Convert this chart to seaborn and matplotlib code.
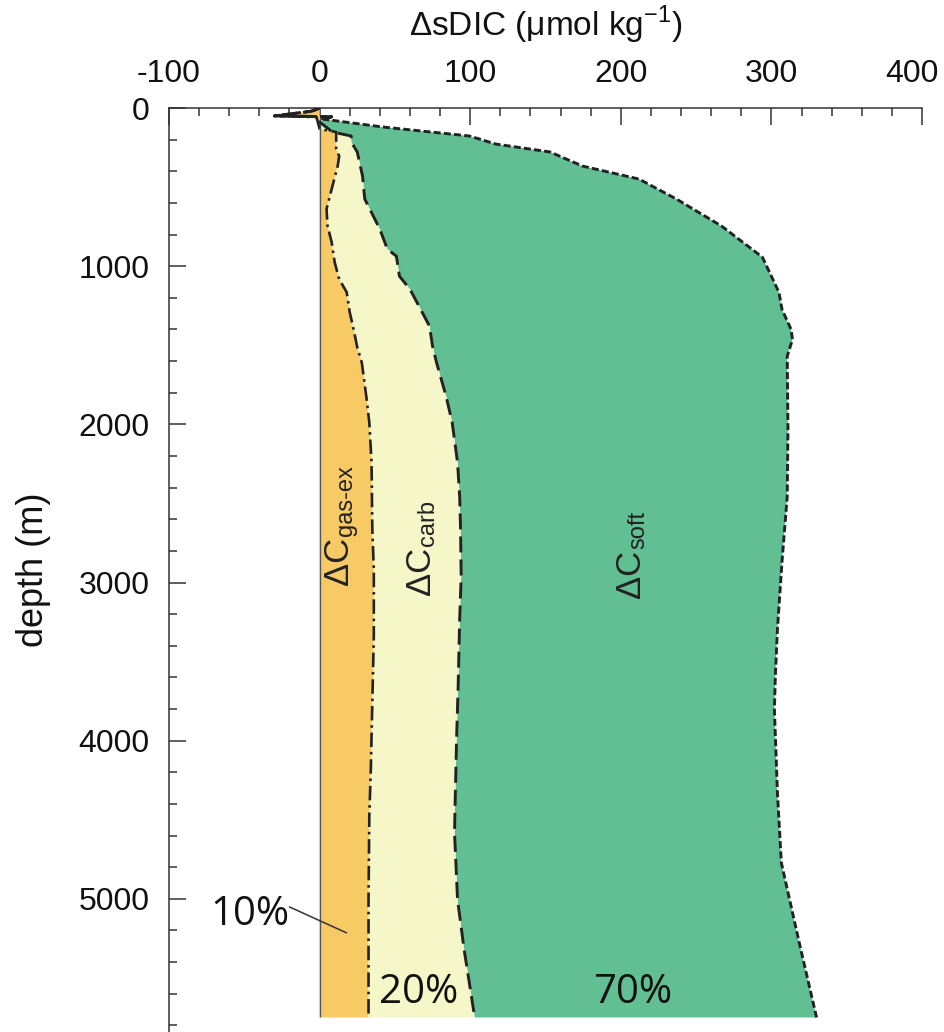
import matplotlib
matplotlib.use("Agg")
import matplotlib.pyplot as plt
from matplotlib.ticker import MultipleLocator
from matplotlib.transforms import offset_copy, ScaledTranslation
import seaborn as sns
import numpy as np

# boundary profiles (cumulative, umol/kg vs depth in m)
gas_d = [0, 20, 50, 58, 133, 152, 259, 304, 367, 513, 639, 747, 848, 975, 1082,
         1165, 1291, 1418, 1513, 1608, 1823, 1987, 2241, 2665, 2918, 3342, 3759,
         4184, 4481, 5006, 5750]
gas_x = [0, -6, -28, -2, 0, 11, 11, 13, 12, 8, 4.6, 5.3, 8, 10, 13,
         18, 20, 23, 25, 28, 31, 33, 34.5, 35, 36, 36, 35,
         34, 33, 32.5, 32.5]

carb_d = [0, 20, 50, 55, 89, 152, 177, 215, 278, 430, 576, 766, 892, 937, 1063,
          1146, 1253, 1380, 1506, 1608, 1823, 1987, 2241, 2456, 2665, 2962, 3234,
          3658, 3975, 4392, 4582, 5006, 5323, 5750]
carb_x = [0, -5, -30, 8, 0, 8.6, 21, 21, 25, 28.5, 30, 40, 45, 51, 53,
          60, 66, 73, 75, 77.6, 84, 88, 91.6, 93, 93.6, 94, 93,
          92, 91, 90, 89.6, 91.6, 96, 103]

soft_d = [0, 20, 50, 55, 70, 120, 177, 228, 278, 367, 449, 576, 747, 943, 1165,
          1272, 1399, 1462, 1570, 2032, 2456, 2873, 3297, 3595, 3804, 4329, 4772,
          5278, 5750]
soft_x = [0, -5, -30, 8, 2, 41.8, 99.5, 117, 153, 174.5, 212, 237, 267, 294, 305,
          307, 313, 314, 310.5, 311, 310.5, 307, 304, 302.6, 302, 304, 306.6,
          318.5, 330]

layer_subs = ["gas-ex", "carb", "soft"]
shares = ["10%", "20%", "70%"]

c_gas = "#F7CA66"
c_carb = "#F5F7C9"
c_soft = "#62BF94"
c_line = "#222222"

sns.set_theme(style="white")
plt.rcParams["font.family"] = ["Liberation Sans", "DejaVu Sans"]
plt.rcParams["mathtext.fontset"] = "custom"
plt.rcParams["mathtext.rm"] = "Liberation Sans"
plt.rcParams["axes.unicode_minus"] = False

fig = plt.figure(figsize=(9.45, 10.32), dpi=100)
ax = fig.add_axes([169 / 945, 0, (922 - 169) / 945, (1032 - 108) / 1032])

# filled layers
ax.fill(np.r_[carb_x, soft_x[::-1]], np.r_[carb_d, soft_d[::-1]],
        color=c_soft, lw=0, zorder=1)
ax.fill(np.r_[gas_x, carb_x[::-1]], np.r_[gas_d, carb_d[::-1]],
        color=c_carb, lw=0, zorder=1)
ax.fill(np.r_[gas_x, 0, 0], np.r_[gas_d, gas_d[-1], gas_d[0]],
        color=c_gas, lw=0, zorder=1)
ax.vlines(0, 60, gas_d[-1], color="#555555", lw=1, zorder=2)

# boundary lines
sns.lineplot(x=soft_x, y=soft_d, sort=False, estimator=None, ax=ax,
             color=c_line, lw=2.1, dashes=False, zorder=3)
sns.lineplot(x=carb_x, y=carb_d, sort=False, estimator=None, ax=ax,
             color=c_line, lw=2.1, dashes=False, zorder=3)
sns.lineplot(x=gas_x, y=gas_d, sort=False, estimator=None, ax=ax,
             color=c_line, lw=1.9, dashes=False, zorder=3)
lines = ax.get_lines()
lines[0].set_dashes((2.4, 1.1))
lines[1].set_dashes((5.5, 2.4))
lines[2].set_dashes((5.5, 1.8, 1.0, 1.8))

ax.set_xlim(-100, 400)
ax.set_ylim((1032 - 109) / 158 * 1000, 0)

ax.xaxis.tick_top()
ax.xaxis.set_label_position("top")
ax.xaxis.set_major_locator(MultipleLocator(100))
ax.xaxis.set_minor_locator(MultipleLocator(20))
ax.set_yticks(range(0, 6000, 1000))
ax.yaxis.set_minor_locator(MultipleLocator(200))
ax.tick_params(which="both", direction="in", color="#333333", width=1.1,
               top=True, bottom=False, left=True, right=False,
               labeltop=True, labelbottom=False)
ax.tick_params(which="major", length=12, pad=14, labelsize=23, labelcolor="#111111")
ax.tick_params(which="minor", length=6)

for s in ["bottom", "right"]:
    ax.spines[s].set_visible(False)
for s in ["top", "left"]:
    ax.spines[s].set_color("#333333")
    ax.spines[s].set_linewidth(1.1)

ax.set_xlabel(r"ΔsDIC (μmol kg$^{\mathrm{-1}}$)", fontsize=24, labelpad=16,
              color="#111111")
ax.set_ylabel("depth (m)", fontsize=26, labelpad=20, color="#111111")

# keep the last top tick label inside the canvas
fig.canvas.draw()
for lab in ax.get_xticklabels():
    if lab.get_text() == "400":
        lab.set_transform(lab.get_transform()
                          + ScaledTranslation(-7 / 72, 0, fig.dpi_scale_trans))

# layer labels: big "ΔC" plus a large subscript, rotated
label_pos = [(18.6, 2709), (73, 2772), (213, 2791)]
for sub, (lx, ld) in zip(layer_subs, label_pos):
    ax.text(lx, ld, "ΔC", rotation=90, rotation_mode="anchor", fontsize=25,
            ha="right", va="baseline", color="#222222")
    ax.text(lx, ld, sub, rotation=90, rotation_mode="anchor", fontsize=17,
            ha="left", va="baseline", color="#222222",
            transform=offset_copy(ax.transData, fig=fig, x=3, y=0, units="points"))

pct_font = dict(fontsize=29, family=["Open Sans", "DejaVu Sans"], color="#111111",
                ha="center", va="center")
ax.text(-46, 5100, shares[0], **pct_font)
ax.text(66, 5595, shares[1], **pct_font)
ax.text(208, 5595, shares[2], **pct_font)
ax.plot([-20, 17.9], [5051, 5215], color="#333333", lw=1.1, zorder=4)

fig.savefig("out.png", dpi=100)
